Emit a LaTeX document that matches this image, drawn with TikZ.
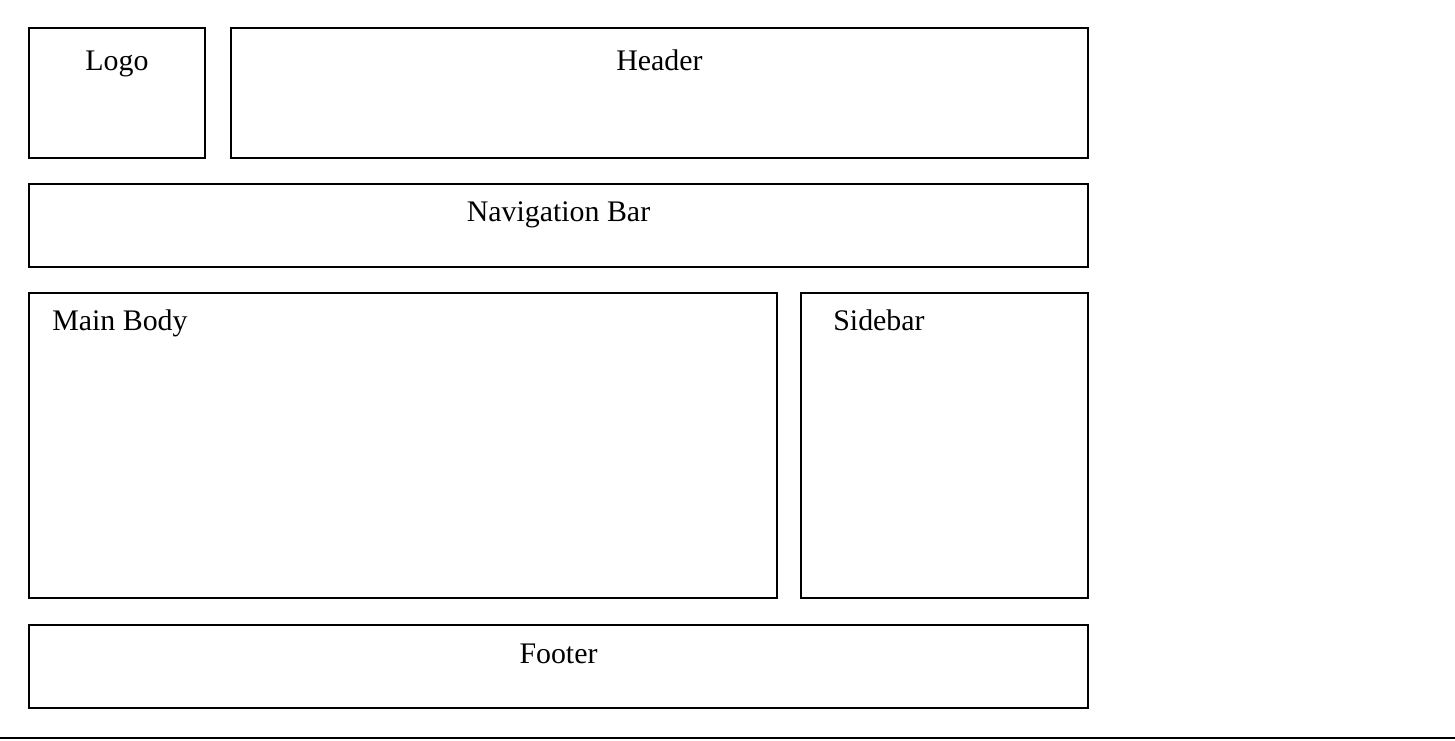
\documentclass[tikz,border=0pt]{standalone}
\usepackage{fontspec}
\setmainfont{Liberation Serif}
\usetikzlibrary{positioning}

\begin{document}
\begin{tikzpicture}[font=\fontsize{17}{20}\selectfont,
  pane/.style={draw, line width=0.7pt, inner sep=0pt, outer sep=0pt},
  lbl/.style={inner sep=0pt}]

\useasboundingbox (0,0) rectangle (29.1,14.8);

% top row
\node[pane, minimum width=3.52cm, minimum height=2.6cm] (logo) at (2.34,12.94) {};
\node[pane, minimum width=17.14cm, minimum height=2.6cm] (header) at (13.19,12.94) {};
\node[lbl, anchor=base] (logotext) at ([yshift=-0.86cm]logo.north) {Logo};
\node[lbl, anchor=base] (headertext) at ([yshift=-0.86cm]header.north) {Header};

% navigation
\node[pane, minimum width=21.18cm, minimum height=1.66cm] (nav) at (11.17,10.29) {};
\node[lbl, anchor=base] (navtext) at ([yshift=-0.76cm]nav.north) {Navigation Bar};

% body and sidebar
\node[pane, minimum width=14.96cm, minimum height=6.1cm] (main) at (8.06,5.89) {};
\node[pane, minimum width=5.74cm, minimum height=6.1cm] (side) at (18.89,5.89) {};
\node[lbl, anchor=base west] (maintext) at ([xshift=0.46cm, yshift=-0.76cm]main.north west) {Main Body};
\node[lbl, anchor=base west] (sidetext) at ([xshift=0.64cm, yshift=-0.76cm]side.north west) {Sidebar};

% footer
\node[pane, minimum width=21.18cm, minimum height=1.66cm] (footer) at (11.17,1.47) {};
\node[lbl, anchor=base] (footertext) at ([yshift=-0.76cm]footer.north) {Footer};

% bottom rule
\coordinate (ruleL) at (0,0.04);
\coordinate (ruleR) at (29.1,0.04);
\draw[line width=0.7pt] (ruleL) -- (ruleR);

\end{tikzpicture}
\end{document}
